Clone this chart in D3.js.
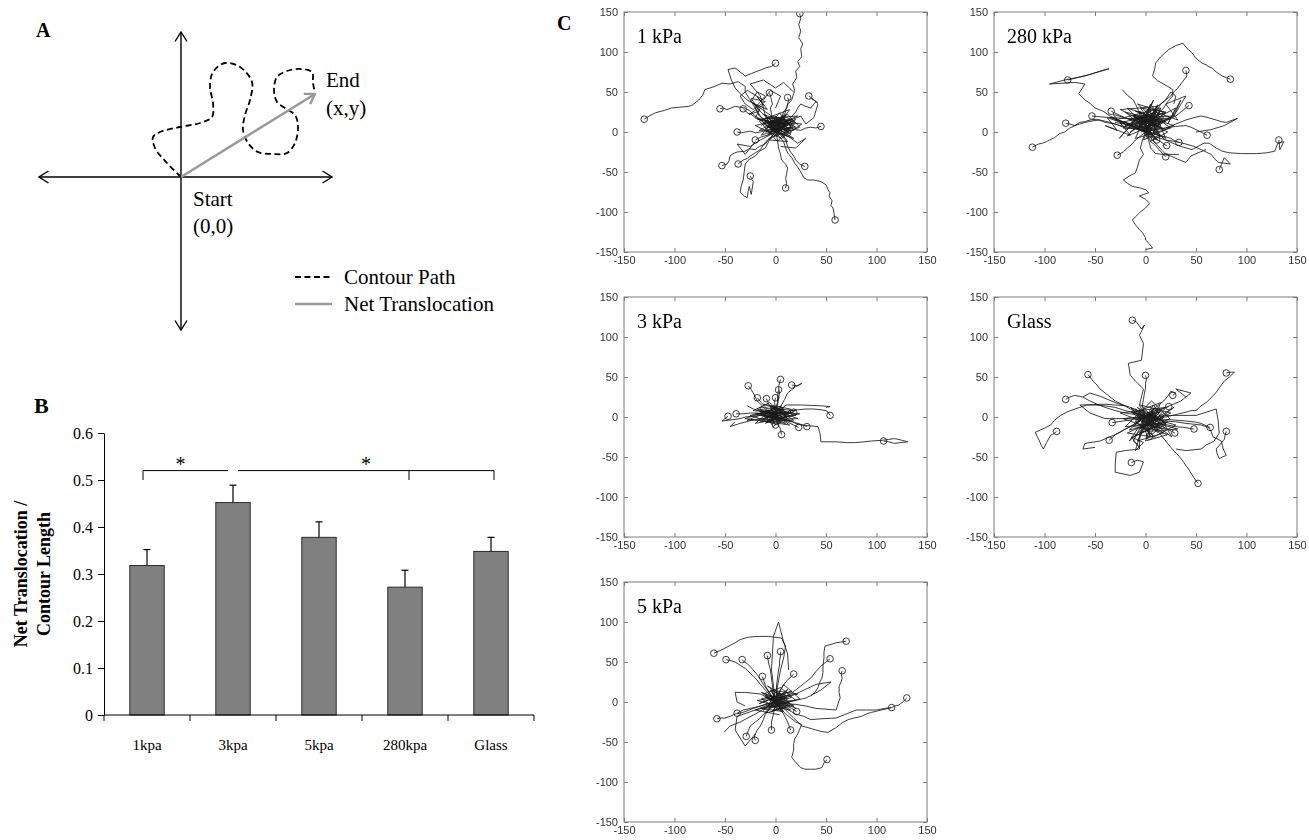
<!DOCTYPE html>
<html><head><meta charset="utf-8">
<script src="https://cdn.jsdelivr.net/npm/d3@7"></script>
<style>body{margin:0;background:#fff}</style>
</head><body>
<svg id="fig" width="1309" height="840"></svg>
<script>
// ---------------- Panel A data (schematic units) ----------------
const contourPath = [[0,0],[-1.4,1.4],[-2.6,2.9],[-2.8,4.0],[-2.1,4.5],[-0.1,5.0],[1.9,5.4],[3.1,6.0],[3.2,7.4],[2.9,9.0],[3.2,10.5],[4.4,11.4],[5.9,11.0],[7.1,9.5],[6.9,7.7],[6.4,6.2],[6.2,4.7],[6.7,3.4],[7.7,2.5],[9.2,2.3],[10.6,2.4],[11.4,3.4],[11.7,5.0],[11.4,6.2],[10.4,6.9],[9.6,7.5],[9.3,8.7],[9.6,10.0],[10.6,10.6],[11.9,10.8],[13.1,10.5],[13.2,9.4],[13.4,8.4]];
const netEnd = [13.4, 8.3];
const axisExtentA = {xMin:-14.2, xMax:15.1, yMin:-15.3, yMax:14.5};
const legendLabelsA = ["Contour Path", "Net Translocation"];

// ---------------- Panel B data ----------------
const barCategories = ["1kpa","3kpa","5kpa","280kpa","Glass"];
const barMeans = [0.318, 0.452, 0.378, 0.272, 0.348];
const barErrors = [0.034, 0.037, 0.033, 0.036, 0.030];
const yTicksB = [0,0.1,0.2,0.3,0.4,0.5,0.6];
const sigLeft = ["1kpa","3kpa"];
const sigRight = ["3kpa","280kpa","Glass"];
const sigLevel = 0.52, sigTickLevel = 0.50, starLevel = 0.532;

// ---------------- Panel C data (µm) ----------------
const ticksC = [-150,-100,-50,0,50,100,150];
const panelNames = ["1 kPa","280 kPa","3 kPa","Glass","5 kPa"];

const tracks1kPa = [
 [[0,0],[4,8],[2,16],[9,22],[12,34],[16,40],[19,52],[17,60],[21,68],[20,76],[24,82],[22,88],[26,94],[25,104],[27,110],[23,118],[25,126],[23,134],[25,142],[24,148]],
 [[0,0],[-6,6],[-9,14],[-16,20],[-20,30],[-26,42],[-30,50],[-30,57],[-37,63],[-45,60],[-53,61],[-60,57],[-70,53],[-72,46],[-76,40],[-82,34],[-86,32],[-95,31],[-103,30],[-110,27],[-119,24],[-125,20],[-130,16]],
 [[0,0],[4,-6],[8,-12],[10,-20],[12,-26],[16,-32],[19,-39],[22,-44],[25,-50],[28,-57],[32,-60],[38,-60],[45,-62],[50,-66],[52,-72],[54,-76],[53,-80],[56,-86],[55,-92],[57,-95],[58,-102],[59,-110]],
 [[0,0],[-6,-10],[-10,-20],[-16,-24],[-20,-30],[-26,-34],[-30,-40],[-31,-50],[-32,-60],[-34,-68],[-35,-75],[-31,-80],[-28,-82],[-27,-74],[-26,-68],[-25,-73],[-24,-78],[-23,-70],[-22,-62],[-24,-58],[-25,-55]],
 [[0,0],[-6,-8],[-10,-15],[-16,-18],[-20,-22],[-26,-21],[-30,-24],[-38,-25],[-42,-27],[-45,-30],[-46,-36],[-48,-40],[-53,-42]],
 [[0,0],[-4,-6],[-8,-10],[-12,-16],[-15,-22],[-20,-26],[-25,-30],[-28,-33],[-32,-35],[-37,-40]],
 [[0,0],[2,-10],[3,-20],[5,-28],[6,-35],[10,-40],[12,-45],[11,-52],[10,-58],[11,-64],[10,-70]],
 [[0,0],[5,-4],[10,-10],[12,-18],[15,-25],[18,-30],[20,-35],[24,-40],[29,-43]],
 [[0,0],[8,4],[15,5],[20,3],[25,2],[30,5],[35,6],[40,5],[45,7]],
 [[0,0],[6,6],[10,12],[15,18],[20,25],[22,30],[25,35],[30,32],[35,30],[40,38],[36,42],[42,36],[38,40],[33,45]],
 [[0,0],[3,6],[5,12],[6,18],[8,25],[11,30],[12,35],[13,40],[12,43]],
 [[0,0],[-2,8],[-3,15],[-4,22],[-5,30],[-3,35],[-4,40],[-5,45],[-6,49]],
 [[0,0],[-5,15],[-12,22],[-18,30],[-22,36],[-28,40],[-35,48],[-40,55],[-44,66],[-47,78],[-40,80],[-34,74],[-30,70],[-24,73],[-20,75],[-14,78],[-10,80],[-4,82],[0,86]],
 [[0,0],[-6,5],[-10,10],[-15,16],[-20,20],[-25,26],[-30,30],[-35,31],[-40,32],[-44,30],[-48,28],[-52,30],[-55,29]],
 [[0,0],[-5,6],[-10,10],[-15,15],[-20,18],[-24,22],[-28,24],[-30,27],[-32,29]],
 [[0,0],[-5,1],[-10,2],[-15,0],[-20,-1],[-25,1],[-30,0],[-34,-1],[-38,0]],
 [[0,0],[-4,-2],[-8,-4],[-11,-5],[-14,-6],[-17,-8],[-20,-10]],
 [[0,0],[6,4],[10,2],[12,-1]]
];
const paths1kPa = [
 [[0,0],[8,12],[-6,6],[14,2],[2,16],[-12,10],[10,-4],[20,12],[-4,20],[6,4],[-16,2],[12,22],[24,6],[-2,-6],[16,14],[-10,18],[4,-2],[18,-8],[-8,12],[10,10],[-18,16],[22,20],[0,8],[12,-12],[-6,-10],[8,6]],
 [[0,0],[-8,14],[12,8],[-14,-4],[4,24],[18,2],[-4,4],[10,18],[-20,8],[6,-8],[26,10],[-2,14],[14,-2],[-12,22],[8,12],[-6,-2],[20,16],[2,-12],[-16,14],[14,28],[4,10],[-10,0],[16,6]],
 [[0,0],[5,10],[-3,18],[12,14],[6,2],[-8,6],[2,12],[16,8],[10,-2],[-2,10],[8,20],[18,14],[4,6],[-6,16],[14,4],[0,14],[10,8],[-4,2],[6,16],[20,6],[2,4],[12,12],[-10,12],[8,0]],
 [[0,0],[14,10],[-2,2],[6,18],[-10,4],[10,14],[2,-4],[-6,12],[16,16],[4,8],[-12,16],[12,0],[0,20],[8,-6],[-4,8],[18,10],[6,12],[-8,-4],[10,22],[2,6]],
 [[0,0],[-6,10],[-14,18],[-20,30],[-10,38],[-24,42],[-16,26],[-26,22],[-12,34],[-18,44],[-8,28],[-22,36],[-4,20],[-14,8]],
 [[0,0],[-8,12],[-20,18],[-15,30],[-25,38],[-18,50],[-10,45],[-22,28],[-30,35],[-35,45],[-28,52],[-12,40],[-5,52],[5,45],[0,30]],
 [[0,0],[-15,-10],[-25,-18],[-38,-15],[-30,-28],[-20,-12]],
 [[0,0],[-10,20],[-15,45],[-25,60],[-12,65],[0,55],[8,62],[18,50]],
 [[0,0],[15,15],[25,20],[30,10],[38,18],[42,35]],
 [[0,0],[12,-5],[22,-14],[30,-8],[20,-20],[5,-18]]
];

const tracks280kPa = [
 [[0,0],[6,12],[12,22],[18,30],[22,38],[27,45],[27,53],[18,60],[12,64],[7,70],[9,78],[10,86],[15,94],[23,103],[30,108],[37,111],[40,106],[46,99],[50,92],[56,86],[60,84],[62,82],[66,80],[70,75],[76,70],[80,68],[84,66]],
 [[0,0],[4,10],[8,20],[12,28],[15,35],[20,40],[25,45],[28,50],[32,55],[35,60],[38,65],[41,70],[40,77]],
 [[0,0],[-10,6],[-20,10],[-28,16],[-35,20],[-42,26],[-50,30],[-55,36],[-60,40],[-66,48],[-60,60],[-70,62],[-95,60],[-80,65],[-60,70],[-40,78],[-36,79],[-55,72],[-77,65]],
 [[0,0],[-10,4],[-20,5],[-30,10],[-40,12],[-48,16],[-55,15],[-60,13],[-65,12],[-70,8],[-75,5],[-80,0],[-85,-2],[-90,-7],[-95,-10],[-98,-12],[-102,-14],[-106,-15],[-112,-19]],
 [[0,0],[-12,5],[-25,8],[-35,12],[-45,15],[-52,14],[-60,12],[-65,10],[-70,8],[-75,10],[-79,11]],
 [[0,0],[-10,6],[-20,12],[-28,15],[-35,18],[-44,19],[-53,20]],
 [[0,0],[-8,8],[-15,15],[-24,20],[-34,26]],
 [[0,0],[-5,-5],[-10,-10],[-14,-16],[-18,-20],[-22,-25],[-28,-29]],
 [[0,0],[3,-6],[5,-12],[9,-16],[12,-20],[16,-26],[20,-31]],
 [[0,0],[4,-4],[8,-8],[12,-10],[15,-12],[18,-15],[21,-17]],
 [[0,0],[8,-2],[15,-5],[20,-6],[25,-8],[29,-11],[33,-13]],
 [[0,0],[6,-4],[11,-10]],
 [[0,0],[10,3],[20,5],[30,7],[40,8],[45,6],[50,3],[55,0],[61,-4]],
 [[0,0],[10,-6],[20,-10],[30,-12],[40,-15],[48,-18],[55,-22],[60,-25],[65,-28],[68,-33],[72,-38],[84,-40],[78,-32],[73,-47]],
 [[0,0],[8,-2],[15,-5],[20,-10],[27,-14],[35,-18],[46,-22],[52,-18],[58,-14],[63,-14],[70,-20],[76,-24],[83,-26],[95,-27],[110,-27],[120,-26],[128,-24],[131,-14],[137,-12],[133,-22],[132,-10]],
 [[0,0],[8,5],[15,10],[22,15],[30,20],[34,24],[38,28],[43,33]]
];
const paths280kPa = [
 [[0,0],[-3,-10],[-5,-20],[-2,-28],[-6,-35],[-8,-44],[-10,-51],[-16,-55],[-22,-60],[-18,-64],[-13,-68],[-5,-70],[0,-72],[3,-76],[-2,-78],[-6,-80],[0,-84],[4,-89],[0,-95],[-6,-101],[-10,-106],[-13,-110],[-10,-116],[-6,-122],[-3,-126],[0,-132],[0,-135],[4,-140],[7,-145],[0,-147]],
 [[0,0],[10,3],[20,5],[30,10],[40,15],[48,18],[55,20],[62,18],[70,15],[75,13],[80,12],[91,17],[78,8],[65,3],[50,0]],
 [[0,0],[3,-10],[5,-20],[10,-27],[18,-28],[25,-30],[32,-34],[40,-38],[45,-30],[52,-26],[60,-22]],
 [[0,0],[-3,10],[-5,20],[-8,30],[-12,40],[-18,46],[-23,53]],
 [[0,0],[5,15],[10,30],[20,40],[25,50],[30,45],[28,35]],
 [[0,0],[10,-14],[20,-28],[33,-28]],
 [[0,0],[10,15],[-15,8],[20,25],[-5,30],[15,-5],[-25,12],[8,20],[25,5],[-10,-8],[5,35],[18,12],[-20,25],[12,-10],[-8,18],[28,20],[0,5],[-30,15],[15,30],[5,-12],[22,0],[-12,22],[10,10]],
 [[0,0],[-12,20],[15,5],[-22,5],[8,28],[20,-8],[-5,12],[25,18],[-18,-5],[2,22],[12,0],[-35,18],[10,15],[-8,35],[18,25],[-15,0],[5,18],[28,8],[-2,-10],[12,32],[-25,28],[6,8]],
 [[0,0],[8,12],[-4,20],[15,8],[2,28],[-10,10],[18,18],[6,-4],[-6,26],[12,14],[0,6],[20,24],[-12,16],[10,2],[4,30],[-2,12],[14,-6],[8,22],[-8,4],[16,12]],
 [[0,0],[-6,14],[10,24],[-16,16],[4,10],[12,34],[-4,0],[20,14],[-10,26],[6,18],[-20,8],[14,28],[2,-8],[-12,22],[18,4],[0,16],[8,40],[-6,8],[24,16]],
 [[0,0],[-20,10],[-38,18],[-28,2],[-40,8],[-15,-4],[-32,22],[-10,14],[-26,-8],[-4,24],[-18,30],[2,4],[-30,12]],
 [[0,0],[15,20],[30,30],[22,10],[35,40],[28,20],[40,45],[20,35],[32,15],[10,25]]
];

const tracks3kPa = [
 [[0,0],[8,-2],[15,-5],[20,-8],[26,-10],[34,-11],[42,-12],[44,-20],[45,-31],[52,-31],[60,-31],[70,-32],[79,-32],[88,-31],[95,-30],[107,-29],[112,-28],[118,-27],[125,-29],[131,-31],[124,-32],[118,-33],[112,-31],[107,-30]],
 [[0,0],[8,4],[15,8],[22,9],[30,10],[38,10],[45,9],[50,8],[52,6],[54,2]],
 [[0,0],[-5,5],[-10,10],[-14,15],[-18,20],[-20,25],[-22,30],[-25,36],[-27,39]],
 [[0,0],[1,8],[2,15],[3,22],[4,30],[3,38],[5,47]],
 [[0,0],[1,12],[2,18],[2,25],[3,34]],
 [[0,0],[3,8],[6,15],[9,22],[12,30],[16,34],[20,38],[26,42],[22,39],[16,40]],
 [[0,0],[-4,5],[-8,10],[-11,14],[-14,18],[-18,24]],
 [[0,0],[0,10],[-1,18],[0,24]],
 [[0,0],[-4,10],[-7,17],[-9,23]],
 [[0,0],[-8,1],[-15,2],[-22,1],[-30,0],[-35,-2],[-40,-3],[-46,-4],[-53,-5],[-47,1]],
 [[0,0],[-6,2],[-12,3],[-18,5],[-25,5],[-32,4],[-39,4]],
 [[0,0],[2,-8],[5,-15],[6,-22]],
 [[0,0],[10,-5],[18,-10],[23,-13]],
 [[0,0],[6,-2],[12,-4],[17,-6],[22,-8],[27,-10],[31,-12]],
 [[0,0],[-2,-5],[0,-10]],
 [[0,0],[8,3],[14,5],[18,6]]
];
const paths3kPa = [
 [[0,0],[-10,8],[5,-5],[-20,4],[12,6],[-5,14],[18,-4],[-15,-6],[8,12],[-25,2],[2,-10],[15,10],[-12,16],[20,2],[-8,-4],[10,-8],[-18,10],[4,6],[22,-2],[-28,-4],[0,10]],
 [[0,0],[8,10],[-14,2],[16,-6],[-6,18],[-22,8],[12,4],[-2,-12],[-16,12],[20,8],[-10,-8],[6,14],[-30,-2],[14,-10],[-4,6],[24,4],[-20,-8],[2,16]],
 [[0,0],[-6,6],[4,2],[-12,-2],[8,8],[-4,12],[10,-4],[-18,4],[2,10],[14,2],[-8,-6],[6,4],[-14,8],[12,-2],[-2,14],[4,-6],[-10,2],[16,6]],
 [[0,0],[10,15],[26,15],[45,14],[54,13],[50,12]],
 [[0,0],[-20,-3],[-35,-8],[-45,-12],[-40,-6]],
 [[0,0],[-10,5],[-22,10],[-28,14]]
];

const tracksGlass = [
 [[0,0],[-6,15],[-2,35],[-10,45],[-15,52],[-17,67],[-4,71],[-2,92],[-6,102],[-1,115],[-4,110],[-9,119],[-13,121]],
 [[0,0],[-2,8],[-3,15],[-2,22],[-1,30],[0,36],[0,42],[1,47],[0,52]],
 [[0,0],[-8,5],[-15,10],[-22,15],[-30,20],[-38,28],[-45,35],[-48,40],[-52,45],[-55,50],[-57,53]],
 [[0,0],[-10,3],[-20,5],[-30,8],[-40,12],[-48,16],[-55,20],[-62,25],[-70,27],[-75,25],[-79,22]],
 [[0,0],[-10,5],[-20,8],[-30,12],[-40,14],[-50,15],[-58,15],[-65,12],[-70,10],[-78,6],[-84,2],[-90,-4],[-94,-10],[-100,-14],[-109,-19],[-107,-25],[-105,-30],[-103,-36],[-101,-40],[-98,-32],[-94,-23],[-90,-20],[-88,-18]],
 [[0,0],[-5,-4],[-10,-8],[-15,-12],[-20,-15],[-25,-19],[-30,-22],[-33,-26],[-36,-29]],
 [[0,0],[-4,-15],[-6,-30],[-6,-40],[-20,-42],[-29,-44],[-30,-60],[-30,-69],[-15,-73],[-6,-69],[-2,-56],[-8,-54],[-14,-57]],
 [[0,0],[5,-8],[10,-15],[15,-22],[20,-30],[25,-38],[30,-45],[34,-50],[38,-57],[42,-64],[45,-70],[48,-76],[52,-83]],
 [[0,0],[10,-2],[20,-3],[30,-4],[40,-5],[48,-6],[55,-8],[62,-12],[65,-18],[67,-25],[72,-28],[75,-30],[77,-40],[80,-48],[76,-50],[73,-52],[71,-46],[70,-40],[74,-34],[78,-28],[79,-22],[80,-18]],
 [[0,0],[10,0],[20,0],[30,3],[40,6],[45,8],[50,8],[55,14],[60,18],[65,24],[70,31],[74,38],[78,45],[83,50],[88,56],[84,56],[80,55]],
 [[0,0],[10,-3],[20,-5],[30,-6],[40,-8],[48,-9],[55,-10],[60,-12],[64,-13]],
 [[0,0],[8,-4],[15,-8],[22,-10],[30,-12],[38,-13],[48,-15]],
 [[0,0],[10,-8],[20,-14],[29,-20]],
 [[0,0],[8,5],[15,10],[23,13]],
 [[0,0],[5,6],[10,12],[14,16],[18,20],[22,26],[25,32],[30,30],[27,27]],
 [[0,0],[2,-10],[4,-24]],
 [[0,0],[-12,-3],[-22,-5],[-33,-7]]
];
const pathsGlass = [
 [[0,0],[12,10],[-10,-8],[20,-15],[-5,15],[25,5],[-18,-20],[8,-25],[30,-10],[-12,5],[15,18],[0,-30],[22,-22],[-22,-2],[10,2],[-6,-15],[28,12],[4,-12],[-15,12],[18,-5],[-2,8],[12,-20]],
 [[0,0],[-8,12],[16,-8],[-20,-12],[6,20],[24,-2],[-12,-25],[10,-12],[-25,5],[20,12],[2,-18],[32,-15],[-6,-2],[14,6],[-16,-30],[8,15],[26,-25],[-10,10],[4,-6]],
 [[0,0],[6,-8],[-4,-4],[10,4],[0,-16],[14,-10],[-8,2],[4,-22],[18,0],[-2,-10],[8,10],[-12,-12],[12,-16],[2,6],[20,-8],[-6,-20],[6,-4],[16,8],[-10,-6],[10,-26]],
 [[0,0],[-10,-4],[8,6],[-4,-14],[12,-2],[-14,6],[4,-10],[16,-14],[-6,8],[2,-26],[22,-6],[-16,-16],[10,12],[0,-4],[18,-20],[-8,-30],[6,2]],
 [[0,0],[-4,-10],[-8,-20],[-12,-30],[-6,-38],[-14,-25],[-2,-32],[-10,-42],[-5,-20],[0,-12]],
 [[0,0],[25,2],[50,2],[70,10],[72,-5],[73,-20],[68,-30],[60,-35],[55,-40],[40,-42],[30,-40]],
 [[0,0],[-15,-12],[-30,-22],[-45,-30],[-60,-33],[-62,-40],[-50,-38]],
 [[0,0],[-15,12],[-30,18],[-45,26],[-55,30],[-62,25]],
 [[0,0],[20,12],[35,20],[45,30],[30,35],[40,25]],
 [[0,0],[-20,-2],[-40,-2],[-55,5],[-65,15],[-40,16],[-20,14]]
];

const tracks5kPa = [
 [[0,0],[2,20],[5,40],[8,55],[10,70],[6,80],[-7,82],[-18,82],[-27,81],[-35,78],[-40,74],[-46,70],[-52,66],[-61,61]],
 [[0,0],[-5,8],[-10,15],[-15,22],[-20,30],[-25,36],[-30,42],[-35,46],[-40,50],[-45,52],[-49,53]],
 [[0,0],[-4,8],[-8,15],[-12,22],[-15,28],[-18,34],[-22,40],[-25,44],[-28,48],[-31,50],[-33,53]],
 [[0,0],[1,10],[1,20],[2,30],[3,40],[4,46],[4,52],[5,58],[5,63]],
 [[0,0],[-2,10],[-3,20],[-4,30],[-5,40],[-7,50],[-8,58]],
 [[0,0],[10,1],[20,2],[30,5],[35,8],[39,12],[42,18],[44,25],[46,30],[47,37],[47,45],[48,55],[48,62],[49,70],[55,72],[60,74],[65,75],[70,76]],
 [[0,0],[8,5],[15,10],[20,15],[25,20],[30,25],[35,30],[40,38],[45,45],[50,50],[54,54]],
 [[0,0],[10,-2],[20,-3],[30,-5],[40,-8],[50,-9],[60,-10],[62,-2],[64,5],[63,12],[63,20],[65,25],[66,30],[65,35],[66,39]],
 [[0,0],[5,-5],[10,-10],[18,-20],[26,-30],[32,-32],[40,-35],[46,-37],[52,-38],[60,-32],[66,-26],[72,-22],[78,-20],[85,-18],[90,-15],[95,-13],[105,-10],[115,-7],[118,-5],[122,-4],[126,0],[130,5]],
 [[0,0],[10,-8],[20,-15],[28,-18],[35,-22],[45,-21],[60,-20],[70,-15],[80,-10],[90,-10],[100,-10],[108,-8],[115,-7]],
 [[0,0],[5,-8],[10,-15],[15,-20],[20,-25],[26,-28],[24,-34],[22,-40],[19,-46],[18,-52],[18,-60],[17,-65],[16,-69],[19,-74],[22,-78],[25,-82],[29,-84],[35,-84],[40,-84],[46,-82],[48,-76],[51,-72]],
 [[0,0],[-8,-2],[-15,-5],[-22,-8],[-30,-12],[-35,-14],[-40,-15],[-45,-18],[-50,-20],[-54,-20],[-58,-21]],
 [[0,0],[-6,-2],[-12,-4],[-18,-6],[-25,-8],[-32,-10],[-35,-12],[-38,-14]],
 [[0,0],[-5,-8],[-10,-15],[-12,-22],[-15,-30],[-18,-35],[-20,-40],[-21,-44],[-20,-48]],
 [[0,0],[-8,-10],[-15,-20],[-20,-25],[-25,-30],[-27,-36],[-29,-43]],
 [[0,0],[-2,-15],[-4,-25],[-4,-35]],
 [[0,0],[8,-15],[12,-25],[15,-35]],
 [[0,0],[-5,10],[-10,20],[-13,32]],
 [[0,0],[5,15],[10,25],[18,35]],
 [[0,0],[10,-4],[16,-8],[21,-12]]
];
const paths5kPa = [
 [[0,0],[10,8],[-8,-5],[15,-10],[-12,10],[5,18],[20,2],[-15,-8],[8,-12],[-5,15],[22,10],[-18,2],[2,-6],[12,16],[-10,-14],[18,-4],[-4,6],[10,-2]],
 [[0,0],[-10,6],[12,-4],[-4,-12],[16,14],[-16,-2],[6,10],[-8,20],[20,-8],[0,4],[-14,12],[14,0],[-6,-8],[8,22],[24,4],[-20,-10],[4,-16]],
 [[0,0],[6,6],[-6,2],[4,-6],[-10,8],[12,4],[0,12],[-8,-6],[14,-4],[-2,-10],[8,10],[-14,4],[6,-12],[-4,14],[16,6],[2,-2],[-12,-10],[10,14]],
 [[0,0],[-15,10],[-30,12],[-40,12],[-38,0],[-30,-5]],
 [[0,0],[-20,-10],[-38,-18],[-40,-35],[-30,-55],[-20,-40]],
 [[0,0],[-20,-15],[-35,-25],[-45,-30],[-51,-38]],
 [[0,0],[-2,20],[-4,40],[-2,82],[3,100],[8,75],[12,60],[13,40]],
 [[0,0],[20,10],[40,22],[55,25],[45,15],[35,8]]
];

const trackSets = [tracks1kPa, tracks280kPa, tracks3kPa, tracksGlass, tracks5kPa];
const pathSets = [paths1kPa, paths280kPa, paths3kPa, pathsGlass, paths5kPa];

// ---------------- Layout ----------------
const serif = "'Liberation Serif','Times New Roman',serif";
const sans = "'Liberation Sans',Arial,sans-serif";
const svg = d3.select('#fig');

svg.append('text').attr('x',36).attr('y',37).text('A').attr('font-family',serif).attr('font-weight','bold').attr('font-size',20);
svg.append('text').attr('x',34).attr('y',413).text('B').attr('font-family',serif).attr('font-weight','bold').attr('font-size',22);
svg.append('text').attr('x',557).attr('y',30).text('C').attr('font-family',serif).attr('font-weight','bold').attr('font-size',20);

// ================= Panel A =================
const ax = d3.scaleLinear().domain([axisExtentA.xMin, axisExtentA.xMax]).range([39, 332]);
const ay = d3.scaleLinear().domain([axisExtentA.yMin, axisExtentA.yMax]).range([330, 32]);
const defs = svg.append('defs');
function chevron(id, color, w){
  defs.append('marker').attr('id',id).attr('viewBox','0 -7 12 14').attr('refX',11).attr('refY',0)
    .attr('markerWidth',12).attr('markerHeight',14).attr('markerUnits','userSpaceOnUse').attr('orient','auto-start-reverse')
    .append('path').attr('d','M1.5,-6 L11,0 L1.5,6').attr('fill','none').attr('stroke',color).attr('stroke-width',w);
}
chevron('chevK','#000',1.4);
chevron('chevG','#9a9a9a',2.4);
const gA = svg.append('g');
gA.append('line').attr('x1',ax(axisExtentA.xMin)).attr('x2',ax(axisExtentA.xMax)).attr('y1',ay(0)).attr('y2',ay(0))
  .attr('stroke','#000').attr('stroke-width',1.4).attr('marker-start','url(#chevK)').attr('marker-end','url(#chevK)');
gA.append('line').attr('x1',ax(0)).attr('x2',ax(0)).attr('y1',ay(axisExtentA.yMin)).attr('y2',ay(axisExtentA.yMax))
  .attr('stroke','#000').attr('stroke-width',1.4).attr('marker-start','url(#chevK)').attr('marker-end','url(#chevK)');
gA.append('path').datum(contourPath)
  .attr('d', d3.line().x(d=>ax(d[0])).y(d=>ay(d[1])).curve(d3.curveCatmullRom.alpha(0.5)))
  .attr('fill','none').attr('stroke','#000').attr('stroke-width',1.8).attr('stroke-dasharray','6,3.5');
gA.append('line').attr('x1',ax(0)).attr('y1',ay(0)).attr('x2',ax(netEnd[0])).attr('y2',ay(netEnd[1]))
  .attr('stroke','#9a9a9a').attr('stroke-width',2.6).attr('marker-end','url(#chevG)');
const tA = (x,y,s)=>gA.append('text').attr('x',x).attr('y',y).text(s).attr('font-family',serif).attr('font-size',21).attr('fill','#000');
tA(ax(netEnd[0])+11, ay(netEnd[1])-7, 'End');
tA(ax(netEnd[0])+11, ay(netEnd[1])+21, '(x,y)');
tA(ax(0)+12, ay(0)+29, 'Start');
tA(ax(0)+12, ay(0)+56, '(0,0)');
gA.append('line').attr('x1',295).attr('x2',332).attr('y1',277).attr('y2',277).attr('stroke','#000').attr('stroke-width',1.8).attr('stroke-dasharray','6,3.5');
gA.append('line').attr('x1',295).attr('x2',332).attr('y1',304).attr('y2',304).attr('stroke','#9a9a9a').attr('stroke-width',2.6);
tA(344, 284, legendLabelsA[0]);
tA(344, 311, legendLabelsA[1]);

// ================= Panel B =================
const bx = d3.scaleBand().domain(barCategories).range([104,534]).paddingInner(0.6).paddingOuter(0.3);
const by = d3.scaleLinear().domain([0,0.6]).range([715,433]);
const gB = svg.append('g');
const cx = c => bx(c) + bx.bandwidth()/2;
gB.selectAll('line.err').data(barCategories).join('line').attr('class','err')
  .attr('x1',d=>cx(d)).attr('x2',d=>cx(d))
  .attr('y1',(d,i)=>by(barMeans[i])).attr('y2',(d,i)=>by(barMeans[i]+barErrors[i]))
  .attr('stroke','#000').attr('stroke-width',1.2);
gB.selectAll('line.cap').data(barCategories).join('line').attr('class','cap')
  .attr('x1',d=>cx(d)-3.5).attr('x2',d=>cx(d)+3.5)
  .attr('y1',(d,i)=>by(barMeans[i]+barErrors[i])).attr('y2',(d,i)=>by(barMeans[i]+barErrors[i]))
  .attr('stroke','#000').attr('stroke-width',1.2);
gB.selectAll('rect.bar').data(barCategories).join('rect').attr('class','bar')
  .attr('x',d=>bx(d)).attr('width',bx.bandwidth())
  .attr('y',(d,i)=>by(barMeans[i])).attr('height',(d,i)=>by(0)-by(barMeans[i]))
  .attr('fill','#808080').attr('stroke','#2a2a2a').attr('stroke-width',1);
const yAxB = gB.append('g').attr('transform','translate(104,0)')
  .call(d3.axisLeft(by).tickValues(yTicksB).tickSize(6).tickSizeOuter(0).tickPadding(5).tickFormat(d=>d===0?'0':d.toFixed(1)));
yAxB.selectAll('text').attr('font-family',serif).attr('font-size',16).attr('fill','#000');
yAxB.select('.domain').attr('stroke','#000');
const x0 = bx.range()[0];
gB.append('line').attr('x1',x0).attr('x2',bx.range()[1]).attr('y1',by(0)).attr('y2',by(0)).attr('stroke','#000');
gB.selectAll('line.xt').data(d3.range(barCategories.length+1)).join('line').attr('class','xt')
  .attr('x1',i=>x0+i*bx.step()).attr('x2',i=>x0+i*bx.step()).attr('y1',by(0)).attr('y2',by(0)+6).attr('stroke','#000');
gB.selectAll('text.cat').data(barCategories).join('text').attr('class','cat')
  .attr('x',d=>cx(d)).attr('y',by(0)+35).attr('text-anchor','middle').text(d=>d)
  .attr('font-family',serif).attr('font-size',15);
const yTitle = ["Net Translocation /", "Contour Length"];
yTitle.forEach((t,i)=>{
  gB.append('text').attr('transform',`translate(${27+i*23},${(by(0)+by(0.6))/2}) rotate(-90)`)
    .attr('text-anchor','middle').text(t).attr('font-family',serif).attr('font-weight','bold').attr('font-size',18);
});
const sy = by(sigLevel), sty = by(sigTickLevel);
const lx1 = cx(sigLeft[0])-4, lx2 = cx(sigLeft[1])-5;
gB.append('path').attr('d',`M${lx1},${sty} V${sy} H${lx2}`).attr('fill','none').attr('stroke','#000');
const rx1 = cx(sigRight[0])+5, rx2 = cx(sigRight[2])+3, rxm = cx(sigRight[1])+4;
gB.append('path').attr('d',`M${rx1},${sy} H${rx2} V${sty} M${rxm},${sy} V${sty}`).attr('fill','none').attr('stroke','#000');
gB.append('text').attr('x',(lx1+lx2)/2-5).attr('y',by(starLevel)+6).attr('text-anchor','middle').text('*').attr('font-family',serif).attr('font-size',20);
gB.append('text').attr('x',(rx1+rx2)/2).attr('y',by(starLevel)+6).attr('text-anchor','middle').text('*').attr('font-family',serif).attr('font-size',20);

// ================= Panel C =================
const colLeft = [624, 994], rowTop = [12, 297, 582];
const pw = 303, ph = 240;
const panelPos = [[0,0],[1,0],[0,1],[1,1],[0,2]];
const frameColor = '#7c7c7c';
panelNames.forEach((name, k)=>{
  const L = colLeft[panelPos[k][0]], T = rowTop[panelPos[k][1]];
  const xs = d3.scaleLinear().domain([-150,150]).range([L, L+pw]);
  const ys = d3.scaleLinear().domain([-150,150]).range([T+ph, T]);
  const g = svg.append('g');
  const cid = 'clip'+k;
  defs.append('clipPath').attr('id',cid).append('rect').attr('x',L).attr('y',T).attr('width',pw).attr('height',ph);
  const data = g.append('g').attr('clip-path',`url(#${cid})`);
  const line = d3.line().x(d=>xs(d[0])).y(d=>ys(d[1]));
  data.selectAll('path.p').data(pathSets[k]).join('path').attr('class','p').attr('d',line)
    .attr('fill','none').attr('stroke','#1a1a1a').attr('stroke-width',0.85).attr('stroke-linejoin','round');
  data.selectAll('path.t').data(trackSets[k]).join('path').attr('class','t').attr('d',line)
    .attr('fill','none').attr('stroke','#1a1a1a').attr('stroke-width',0.85).attr('stroke-linejoin','round');
  data.selectAll('circle').data(trackSets[k]).join('circle')
    .attr('cx',d=>xs(d[d.length-1][0])).attr('cy',d=>ys(d[d.length-1][1])).attr('r',3.3)
    .attr('fill','none').attr('stroke','#1a1a1a').attr('stroke-width',0.85);
  const axg = g.append('g').attr('opacity',0.999);
  const styleAx = sel => { sel.select('.domain').remove(); sel.selectAll('line').attr('stroke',frameColor);
    sel.selectAll('text').attr('font-family',sans).attr('font-size',11).attr('fill','#333'); };
  const fmt = d => String(d);
  axg.append('g').attr('transform',`translate(0,${T+ph})`).call(d3.axisBottom(xs).tickValues(ticksC).tickSize(-4).tickPadding(4).tickFormat(fmt)).call(styleAx);
  axg.append('g').attr('transform',`translate(${L},0)`).call(d3.axisLeft(ys).tickValues(ticksC).tickSize(-4).tickPadding(6).tickFormat(fmt)).call(styleAx);
  axg.append('g').attr('transform',`translate(0,${T})`).call(d3.axisTop(xs).tickValues(ticksC).tickSize(-4).tickFormat('')).call(styleAx);
  axg.append('g').attr('transform',`translate(${L+pw},0)`).call(d3.axisRight(ys).tickValues(ticksC).tickSize(-4).tickFormat('')).call(styleAx);
  g.append('rect').attr('x',L).attr('y',T).attr('width',pw).attr('height',ph).attr('fill','none').attr('stroke',frameColor).attr('stroke-width',1);
  g.append('text').attr('x',L+13).attr('y',T+31).text(name).attr('font-family',serif).attr('font-size',20).attr('fill','#000');
});
</script>
</body></html>
